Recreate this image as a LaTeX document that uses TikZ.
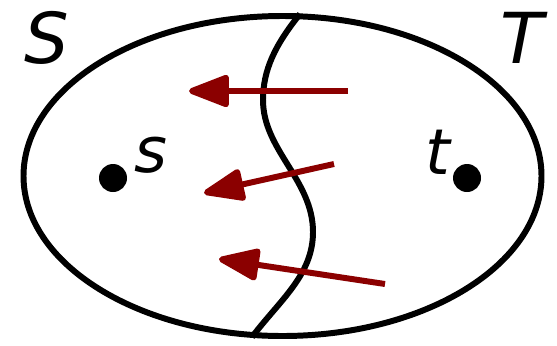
\documentclass[tikz,border=0pt]{standalone}
\usepackage{fontspec}
\setmainfont{DejaVu Sans}
\usepackage{xcolor}
\usetikzlibrary{arrows.meta}
\definecolor{cutred}{RGB}{139,0,0}

\begin{document}
\begin{tikzpicture}[x=0.02cm, y=-0.02cm,
    setlabel/.style={inner sep=0pt, font=\fontsize{40}{48}\selectfont\itshape},
    vlabel/.style={inner sep=0pt, font=\fontsize{36}{44}\selectfont\itshape},
    vertex/.style={circle, fill=black, inner sep=0pt, minimum size=28*0.02cm},
    flow/.style={line width=3.4pt, cutred, -{Triangle[length=26pt, width=19pt, round]}}]
    \useasboundingbox (0, 0) rectangle (557, 345);

    % Whole graph
    \draw[line width=3.4pt] (282.5, 176) ellipse [x radius=259, y radius=160];
    % Cut between S and T
    \draw[line width=3.4pt] (300, 14) .. controls (275, 45) and (263, 70) .. (263, 100)
        .. controls (263, 150) and (313, 180) .. (313, 232)
        .. controls (313, 275) and (280, 300) .. (252, 337);

    % Sides
    \node[setlabel] (S) at (47, 38) {S};
    \node[setlabel] (T) at (522, 38) {T};

    % Source and sink
    \node[vertex] (s) at (113, 178) {};
    \node[vlabel] (slab) at (151, 155) {s};
    \node[vertex] (t) at (467, 178) {};
    \node[vlabel] (tlab) at (438, 152) {t};

    % Edges crossing back
    \coordinate (a1) at (348, 91);  \coordinate (b1) at (189, 91);
    \coordinate (a2) at (334, 164); \coordinate (b2) at (204, 193);
    \coordinate (a3) at (385, 284); \coordinate (b3) at (219, 259);
    \draw[flow] (a1) -- (b1);
    \draw[flow] (a2) -- (b2);
    \draw[flow] (a3) -- (b3);
\end{tikzpicture}
\end{document}
